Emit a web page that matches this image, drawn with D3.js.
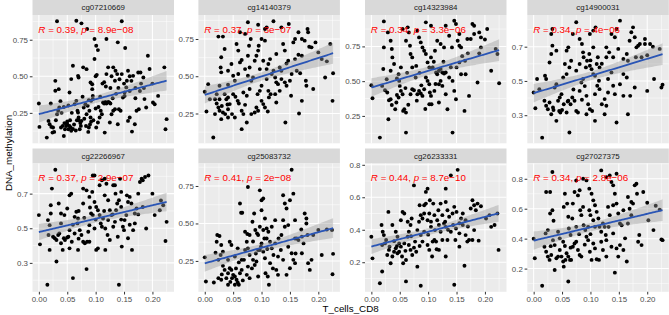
<!DOCTYPE html>
<html><head><meta charset="utf-8">
<script src="https://cdn.jsdelivr.net/npm/d3@7"></script>
<style>body{margin:0;background:#fff}svg{display:block}</style>
</head><body><svg id="c" width="669" height="315"></svg>
<script>
const probes = ["cg07210669","cg14140379","cg14323984","cg14900031","cg22266967","cg25083732","cg26233331","cg27027375"];
const rValues = ["0.39","0.37","0.34","0.34","0.37","0.41","0.44","0.34"];
const pValues = ["8.9e\u221208","3e\u221207","3.3e\u221206","4e\u221206","2.9e\u221207","2e\u221208","8.7e\u221210","2.8e\u221206"];
const xTicks = [0,0.05,0.1,0.15,0.2];
const xLimits = [-0.0112,0.238];
const yTicks = [[0.25,0.5,0.75],[0.25,0.5,0.75],[0.25,0.5,0.75],[0.3,0.5,0.7],[0.3,0.5,0.7],[0.25,0.5,0.75],[0.2,0.4,0.6,0.8],[0.2,0.4,0.6,0.8]];
const yTickLabels = [["0.25","0.50","0.75"],["0.25","0.50","0.75"],["0.25","0.50","0.75"],["0.3","0.5","0.7"],["0.3","0.5","0.7"],["0.25","0.50","0.75"],["0.2","0.4","0.6","0.8"],["0.2","0.4","0.6","0.8"]];
const yLimits = [[0.042,0.919],[0.050,0.911],[0.053,0.976],[0.136,0.885],[0.133,0.874],[0.044,0.900],[0.018,0.808],[0.045,0.902]];

const pts1 = [[0,.314],[.001,.154],[.014,.081],[.017,.195],[.019,.172],[.022,.154],[.025,.15],[.024,.115],[.021,.314],[.029,.401],[.035,.412],[.029,.469],[.034,.264],[.032,.241],[.036,.287],[.039,.15],[.042,.161],[.044,.092],[.046,.138],[.05,.172],[.052,.138],[.054,.161],[.056,.15],[.057,.127],[.05,.191],[.054,.389],[.057,.481],[.06,.572],[.063,.309],[.066,.332],[.068,.264],[.069,.252],[.07,.218],[.072,.138],[.074,.161],[.075,.195],[.069,.503],[.07,.492],[.078,.561],[.084,.549],[.079,.287],[.082,.309],[.084,.241],[.086,.298],[.088,.337],[.089,.264],[.091,.218],[.092,.332],[.095,.344],[.091,.458],[.094,.446],[.094,.412],[.095,.366],[.098,.618],[.101,.709],[.104,.679],[.098,.755],[.101,.15],[.104,.184],[.107,.218],[.109,.264],[.111,.241],[.113,.321],[.115,.314],[.117,.325],[.119,.314],[.122,.325],[.124,.321],[.126,.314],[.119,.515],[.122,.561],[.131,.561],[.135,.538],[.138,.515],[.116,.115],[.125,.184],[.128,.241],[.131,.264],[.134,.275],[.139,.172],[.141,.275],[.144,.264],[.148,.355],[.151,.389],[.154,.424],[.151,.366],[.146,.515],[.157,.538],[.163,.469],[.166,.503],[.157,.195],[.16,.218],[.164,.122],[.169,.172],[.172,.264],[.176,.275],[.175,.526],[.179,.526],[.184,.492],[.186,.344],[.189,.287],[.192,.64],[.201,.321],[.204,.309],[.21,.366],[.221,.561],[.225,.207],[.223,.138],[.032,.876],[.066,.88],[.075,.862],[.085,.823],[.146,.876],[.119,.755],[.139,.732],[.152,.693],[.045,.18],[.048,.16],[.055,.2],[.06,.14],[.062,.17],[.065,.13],[.067,.2],[.058,.25],[.08,.21],[.083,.16],[.087,.12],[.09,.17],[.096,.2],[.1,.28],[.105,.29],[.108,.36],[.112,.45],[.115,.46],[.118,.43],[.126,.42],[.16,.5],[.13,.35],[.136,.38],[.14,.42],[.2,.45],[.15,.45],[.155,.47],[.16,.4],[.17,.42],[.17,.35],[.178,.4],[.18,.45],[.185,.42],[.195,.55],[.038,.33],[.03,.2],[.027,.12],[.04,.25],[.044,.29],[.052,.3],[.07,.2],[.073,.18],[.077,.36],[.088,.15],[.092,.19],[.1,.5],[.102,.51],[.134,.47],[.142,.48],[.128,.5]];

const pts2 = [[0,.396],[.003,.263],[.015,.089],[.024,.766],[.032,.766],[.029,.627],[.035,.683],[.028,.559],[.029,.526],[.006,.447],[.009,.346],[.018,.346],[.021,.317],[.024,.29],[.026,.268],[.032,.257],[.036,.246],[.041,.279],[.044,.313],[.038,.346],[.035,.38],[.021,.38],[.026,.436],[.041,.443],[.041,.537],[.047,.582],[.05,.503],[.053,.47],[.056,.716],[.059,.672],[.062,.593],[.065,.609],[.062,.795],[.071,.784],[.076,.862],[.081,.75],[.078,.705],[.05,.38],[.054,.362],[.058,.335],[.06,.317],[.065,.268],[.068,.246],[.071,.308],[.074,.369],[.065,.145],[.076,.503],[.079,.559],[.082,.47],[.085,.492],[.088,.604],[.091,.638],[.094,.672],[.095,.705],[.097,.548],[.1,.436],[.097,.402],[.093,.38],[.094,.846],[.106,.817],[.109,.828],[.121,.869],[.1,.75],[.106,.739],[.1,.335],[.103,.313],[.106,.29],[.111,.263],[.113,.358],[.116,.38],[.094,.268],[.091,.29],[.112,.582],[.115,.615],[.118,.515],[.121,.537],[.124,.492],[.126,.459],[.129,.447],[.109,.481],[.126,.324],[.135,.537],[.138,.716],[.141,.672],[.144,.586],[.147,.604],[.141,.459],[.144,.436],[.15,.47],[.153,.515],[.152,.369],[.142,.19],[.135,.828],[.148,.851],[.156,.727],[.159,.75],[.165,.795],[.171,.75],[.176,.739],[.181,.817],[.182,.795],[.184,.698],[.188,.694],[.159,.615],[.165,.644],[.162,.537],[.168,.52],[.171,.335],[.166,.25],[.171,.638],[.178,.47],[.179,.436],[.191,.414],[.195,.727],[.206,.615],[.212,.492],[.221,.716],[.226,.52],[.225,.335],[.018,.246],[.041,.223],[.048,.246],[.074,.19],[.082,.246],[.088,.257],[.112,.402],[.124,.38],[.132,.402],[.2,.66],[.215,.6],[.04,.31],[.079,.414],[.068,.391],[.03,.3],[.053,.223],[.041,.358],[.029,.212],[.026,.346],[.109,.548],[.103,.604],[.132,.559],[.126,.649],[.076,.638],[.071,.548],[.059,.515],[.135,.481]];

const pts3 = [[0,.471],[.002,.377],[.015,.094],[.03,.226],[.021,.587],[.022,.743],[.019,.466],[.024,.435],[.027,.514],[.028,.418],[.031,.363],[.034,.37],[.036,.329],[.022,.93],[.029,.851],[.034,.791],[.036,.731],[.037,.671],[.04,.623],[.034,.575],[.042,.298],[.044,.346],[.048,.382],[.05,.466],[.052,.43],[.055,.406],[.056,.286],[.058,.298],[.061,.13],[.061,.274],[.048,.55],[.049,.502],[.052,.599],[.055,.875],[.061,.791],[.064,.887],[.066,.851],[.068,.755],[.069,.695],[.072,.599],[.072,.671],[.069,.406],[.072,.442],[.075,.435],[.078,.526],[.081,.406],[.084,.43],[.087,.411],[.09,.394],[.093,.442],[.079,.61],[.084,.815],[.087,.779],[.09,.743],[.093,.719],[.096,.695],[.099,.635],[.102,.599],[.105,.671],[.108,.599],[.081,.863],[.096,.923],[.105,.899],[.096,.526],[.099,.502],[.102,.478],[.103,.418],[.105,.394],[.111,.43],[.106,.334],[.102,.334],[.114,.562],[.116,.55],[.119,.575],[.122,.587],[.125,.562],[.128,.555],[.131,.562],[.112,.719],[.116,.791],[.122,.767],[.128,.743],[.119,.478],[.122,.502],[.125,.466],[.119,.346],[.131,.406],[.134,.298],[.131,.899],[.137,.827],[.142,.743],[.146,.935],[.149,.911],[.152,.791],[.155,.755],[.158,.743],[.155,.839],[.137,.526],[.143,.502],[.146,.43],[.149,.37],[.143,.13],[.15,.599],[.155,.635],[.158,.55],[.164,.286],[.165,.647],[.166,.55],[.169,.803],[.175,.803],[.178,.911],[.181,.899],[.172,.394],[.181,.839],[.187,.49],[.19,.851],[.193,.815],[.204,.875],[.211,.575],[.219,.731],[.222,.695],[.225,.485],[.193,.743],[.045,.52],[.063,.56],[.085,.56],[.11,.64],[.127,.64],[.14,.6],[.16,.68],[.17,.7],[.088,.47],[.113,.48],[.19,.7],[.065,.33],[.08,.36],[.095,.3],[.06,.45],[.045,.4],[.2,.8]];

const pts4 = [[0,.433],[.003,.341],[.015,.169],[.033,.803],[.031,.774],[.033,.706],[.04,.677],[.031,.657],[.028,.608],[.02,.53],[.022,.511],[.006,.511],[.01,.452],[.019,.384],[.022,.355],[.025,.335],[.028,.374],[.031,.306],[.034,.345],[.037,.462],[.04,.481],[.043,.384],[.045,.325],[.047,.316],[.049,.423],[.052,.52],[.055,.599],[.058,.677],[.061,.696],[.063,.579],[.066,.618],[.069,.774],[.075,.843],[.081,.745],[.085,.716],[.087,.667],[.053,.364],[.058,.316],[.061,.384],[.063,.199],[.065,.364],[.068,.403],[.072,.384],[.075,.325],[.078,.316],[.081,.442],[.084,.491],[.087,.511],[.088,.638],[.092,.579],[.094,.618],[.098,.657],[.099,.589],[.102,.569],[.105,.54],[.108,.53],[.111,.599],[.099,.774],[.105,.794],[.109,.813],[.113,.638],[.093,.413],[.096,.364],[.099,.335],[.103,.325],[.108,.423],[.112,.472],[.115,.501],[.116,.452],[.12,.364],[.125,.394],[.128,.355],[.131,.433],[.131,.511],[.128,.696],[.133,.667],[.137,.774],[.143,.755],[.146,.803],[.152,.852],[.149,.687],[.146,.257],[.14,.472],[.143,.423],[.152,.481],[.158,.413],[.158,.54],[.164,.657],[.166,.618],[.169,.735],[.172,.784],[.175,.813],[.178,.755],[.18,.638],[.181,.696],[.184,.706],[.166,.306],[.17,.413],[.178,.462],[.187,.716],[.19,.638],[.196,.716],[.2,.442],[.205,.716],[.212,.511],[.222,.687],[.225,.462],[.227,.478],[.196,.745],[.105,.696],[.081,.599],[.075,.56],[.058,.54],[.046,.403],[.04,.267],[.093,.306],[.116,.579],[.137,.55],[.14,.638],[.128,.638],[.158,.628],[.164,.52],[.108,.267],[.125,.306],[.05,.33],[.035,.33],[.07,.45],[.09,.47],[.1,.62],[.12,.6],[.21,.7],[.2,.65],[.06,.38],[.085,.39]];

const pts5 = [[0,.576],[.002,.407],[.015,.174],[.019,.375],[.017,.461],[.019,.518],[.021,.585],[.021,.633],[.023,.729],[.029,.838],[.031,.308],[.035,.643],[.025,.451],[.028,.442],[.031,.432],[.034,.461],[.036,.47],[.039,.528],[.042,.375],[.044,.442],[.046,.432],[.05,.447],[.052,.451],[.054,.384],[.058,.422],[.039,.585],[.045,.576],[.05,.614],[.054,.69],[.057,.7],[.06,.212],[.063,.566],[.066,.595],[.069,.556],[.068,.528],[.072,.489],[.069,.375],[.075,.461],[.078,.422],[.081,.413],[.084,.264],[.085,.422],[.089,.518],[.092,.585],[.095,.576],[.095,.805],[.098,.805],[.101,.375],[.104,.384],[.078,.729],[.084,.719],[.089,.681],[.094,.71],[.098,.652],[.101,.623],[.104,.604],[.107,.576],[.109,.528],[.111,.509],[.113,.556],[.107,.748],[.111,.777],[.116,.786],[.119,.757],[.122,.662],[.125,.604],[.128,.576],[.117,.499],[.121,.461],[.125,.432],[.117,.375],[.131,.748],[.134,.748],[.135,.7],[.138,.643],[.141,.662],[.143,.786],[.145,.71],[.148,.509],[.15,.489],[.141,.174],[.139,.451],[.157,.442],[.157,.652],[.16,.681],[.163,.643],[.166,.489],[.169,.528],[.172,.614],[.175,.7],[.178,.767],[.181,.786],[.183,.777],[.187,.796],[.193,.805],[.189,.499],[.145,.623],[.154,.576],[.164,.375],[.151,.547],[.204,.576],[.213,.604],[.219,.633],[.225,.537],[.223,.426],[.183,.623],[.134,.537],[.131,.509],[.054,.489],[.063,.47],[.087,.48],[.098,.499],[.089,.422],[.136,.604],[.169,.585],[.122,.547],[.078,.643],[.116,.69],[.146,.394],[.039,.413],[.016,.547],[.06,.52],[.07,.6],[.08,.56],[.1,.55],[.115,.6],[.13,.58],[.145,.55],[.16,.52],[.2,.7],[.215,.66],[.07,.44],[.09,.62],[.155,.69],[.175,.58]];

const pts6 = [[0,.274],[.002,.113],[.016,.106],[.022,.423],[.026,.416],[.021,.378],[.029,.356],[.019,.305],[.024,.257],[.028,.29],[.032,.217],[.035,.19],[.024,.135],[.029,.124],[.038,.135],[.041,.168],[.044,.201],[.047,.19],[.048,.135],[.05,.157],[.053,.146],[.056,.124],[.058,.106],[.06,.091],[.062,.168],[.041,.091],[.053,.091],[.044,.378],[.047,.356],[.053,.279],[.058,.334],[.062,.633],[.064,.571],[.066,.571],[.071,.445],[.074,.378],[.076,.334],[.079,.29],[.069,.257],[.074,.157],[.079,.135],[.076,.743],[.084,.511],[.087,.566],[.089,.456],[.092,.434],[.094,.423],[.097,.721],[.1,.655],[.103,.666],[.1,.588],[.106,.533],[.109,.467],[.085,.257],[.088,.223],[.091,.246],[.094,.323],[.097,.323],[.099,.345],[.1,.367],[.103,.312],[.106,.268],[.107,.168],[.111,.146],[.113,.091],[.094,.146],[.109,.4],[.112,.445],[.115,.378],[.118,.334],[.121,.29],[.124,.367],[.126,.19],[.129,.157],[.135,.423],[.138,.522],[.141,.478],[.138,.688],[.141,.633],[.144,.6],[.147,.489],[.15,.655],[.153,.858],[.156,.699],[.147,.345],[.153,.301],[.156,.257],[.159,.235],[.15,.201],[.144,.157],[.162,.4],[.159,.522],[.165,.389],[.171,.412],[.174,.367],[.176,.566],[.179,.533],[.179,.5],[.181,.423],[.182,.235],[.185,.19],[.188,.257],[.191,.423],[.2,.456],[.206,.29],[.215,.46],[.224,.456],[.226,.297],[.225,.161],[.159,.4],[.124,.522],[.118,.478],[.129,.279],[.103,.456],[.097,.478],[.079,.423],[.071,.323],[.065,.257],[.076,.212],[.065,.19],[.041,.257],[.032,.312],[.134,.323],[.171,.301],[.138,.257],[.115,.235],[.03,.16],[.045,.11],[.055,.2],[.067,.12],[.083,.2],[.09,.3],[.12,.2],[.13,.4],[.105,.4],[.085,.38],[.075,.43],[.06,.24],[.16,.3],[.17,.46],[.11,.33]];

const pts7 = [[0,.357],[.002,.224],[.015,.071],[.019,.143],[.018,.429],[.02,.388],[.022,.367],[.019,.306],[.024,.316],[.026,.337],[.03,.51],[.032,.296],[.028,.245],[.031,.276],[.034,.194],[.037,.235],[.04,.265],[.043,.286],[.046,.255],[.049,.265],[.052,.296],[.054,.235],[.056,.194],[.061,.082],[.061,.214],[.037,.429],[.043,.388],[.046,.357],[.052,.459],[.055,.51],[.058,.5],[.064,.449],[.064,.357],[.066,.388],[.069,.429],[.071,.469],[.066,.306],[.069,.276],[.072,.245],[.075,.673],[.077,.327],[.079,.265],[.081,.173],[.084,.449],[.085,.551],[.087,.055],[.09,.327],[.093,.551],[.087,.49],[.09,.469],[.093,.5],[.096,.561],[.096,.633],[.099,.653],[.099,.459],[.102,.5],[.103,.582],[.105,.418],[.108,.327],[.109,.561],[.111,.49],[.099,.306],[.102,.276],[.107,.235],[.111,.337],[.114,.327],[.116,.459],[.118,.52],[.119,.429],[.122,.388],[.125,.49],[.128,.439],[.131,.653],[.134,.52],[.131,.418],[.134,.337],[.137,.48],[.14,.735],[.143,.5],[.144,.429],[.146,.061],[.148,.337],[.149,.408],[.15,.51],[.152,.769],[.146,.541],[.155,.378],[.158,.469],[.161,.429],[.164,.178],[.166,.459],[.169,.327],[.172,.337],[.175,.531],[.178,.582],[.181,.551],[.184,.52],[.187,.561],[.178,.337],[.181,.398],[.189,.333],[.193,.545],[.202,.469],[.211,.418],[.217,.429],[.222,.5],[.224,.276],[.208,.49],[.125,.337],[.119,.276],[.131,.235],[.093,.388],[.081,.398],[.058,.316],[.049,.316],[.155,.296],[.166,.367],[.14,.388],[.112,.398],[.131,.571],[.122,.561],[.161,.5],[.087,.367],[.045,.3],[.06,.27],[.075,.29],[.085,.3],[.1,.37],[.115,.28],[.13,.45],[.155,.44],[.17,.42],[.04,.33],[.07,.36],[.105,.45],[.135,.4]];

const pts8 = [[0,.4],[.002,.269],[.015,.085],[.022,.712],[.029,.712],[.033,.845],[.029,.568],[.033,.59],[.025,.457],[.021,.435],[.034,.39],[.037,.357],[.019,.346],[.022,.313],[.025,.28],[.028,.258],[.031,.291],[.037,.191],[.04,.269],[.043,.28],[.046,.324],[.049,.28],[.052,.247],[.053,.213],[.056,.258],[.043,.446],[.046,.402],[.052,.379],[.055,.7],[.053,.612],[.059,.634],[.061,.546],[.062,.468],[.065,.424],[.068,.535],[.069,.634],[.072,.712],[.061,.114],[.055,.351],[.058,.302],[.061,.28],[.064,.258],[.066,.258],[.069,.346],[.072,.368],[.075,.379],[.078,.324],[.081,.291],[.084,.28],[.075,.789],[.078,.689],[.081,.723],[.082,.59],[.084,.557],[.087,.612],[.088,.49],[.091,.457],[.093,.413],[.096,.39],[.098,.59],[.1,.557],[.087,.8],[.093,.789],[.098,.734],[.102,.7],[.105,.656],[.108,.623],[.111,.579],[.114,.535],[.116,.479],[.119,.446],[.122,.501],[.099,.313],[.102,.258],[.105,.368],[.108,.335],[.111,.262],[.115,.258],[.119,.379],[.122,.324],[.125,.479],[.127,.424],[.128,.39],[.119,.856],[.128,.811],[.134,.822],[.137,.778],[.14,.756],[.143,.7],[.146,.834],[.14,.623],[.146,.634],[.149,.568],[.152,.501],[.155,.49],[.134,.557],[.132,.479],[.137,.346],[.143,.173],[.146,.335],[.152,.357],[.158,.324],[.161,.402],[.164,.247],[.166,.678],[.169,.6],[.172,.645],[.175,.634],[.178,.756],[.181,.767],[.182,.7],[.184,.379],[.186,.424],[.19,.357],[.193,.712],[.202,.523],[.211,.457],[.222,.594],[.225,.395],[.227,.39],[.108,.479],[.105,.523],[.131,.612],[.158,.59],[.14,.435],[.166,.501],[.172,.557],[.128,.28],[.149,.28],[.096,.479],[.075,.479],[.035,.52],[.065,.34],[.09,.36],[.03,.35],[.2,.64],[.1,.43],[.08,.43],[.215,.62]];

const series = [pts1,pts2,pts3,pts4,pts5,pts6,pts7,pts8];
const xTitle = "T_cells_CD8";
const yTitle = "DNA_methylation";

// ---------- layout ----------
const FONT = "'Liberation Sans', Arial, Helvetica, sans-serif";
const colLeft = [32.5, 198.4, 365, 527.3];
const panelW = 141.5;
const rowTop = [0, 148.5];
const stripH = 15;
const panelH = 128.3;

const svg = d3.select("#c");
svg.append("rect").attr("width",669).attr("height",315).attr("fill","#fff");

function minorOf(ticks, dom){
  const step = ticks[1]-ticks[0];
  const out = [];
  for (let i=-1;i<ticks.length;i++){
    const v = ticks[0] + step*(i+0.5);
    if (v>dom[0] && v<dom[1]) out.push(v);
  }
  return out;
}
const xMinor = minorOf(xTicks, xLimits);

series.forEach((pts, i) => {
  const row = Math.floor(i/4), col = i%4;
  const left = colLeft[col];
  const top = rowTop[row] + stripH;
  const g = svg.append("g");
  const x = d3.scaleLinear().domain(xLimits).range([left, left+panelW]);
  const y = d3.scaleLinear().domain(yLimits[i]).range([top+panelH, top]);

  // strip
  g.append("rect").attr("x",left).attr("y",rowTop[row]).attr("width",panelW).attr("height",stripH).attr("fill","#D9D9D9");
  g.append("text").attr("x",left+panelW/2).attr("y",rowTop[row]+stripH/2+2.8)
    .attr("text-anchor","middle").attr("font-family",FONT).attr("font-size",7.9).attr("fill","#1A1A1A").text(probes[i]);

  // panel
  g.append("rect").attr("x",left).attr("y",top).attr("width",panelW).attr("height",panelH).attr("fill","#EBEBEB");
  const yMinor = minorOf(yTicks[i], yLimits[i]);
  g.selectAll(".ymn").data(yMinor).join("line").attr("x1",left).attr("x2",left+panelW)
    .attr("y1",d=>y(d)).attr("y2",d=>y(d)).attr("stroke","#fff").attr("stroke-width",0.5);
  g.selectAll(".xmn").data(xMinor).join("line").attr("y1",top).attr("y2",top+panelH)
    .attr("x1",d=>x(d)).attr("x2",d=>x(d)).attr("stroke","#fff").attr("stroke-width",0.5);
  g.selectAll(".ymj").data(yTicks[i]).join("line").attr("x1",left).attr("x2",left+panelW)
    .attr("y1",d=>y(d)).attr("y2",d=>y(d)).attr("stroke","#fff").attr("stroke-width",1.05);
  g.selectAll(".xmj").data(xTicks).join("line").attr("y1",top).attr("y2",top+panelH)
    .attr("x1",d=>x(d)).attr("x2",d=>x(d)).attr("stroke","#fff").attr("stroke-width",1.05);

  // y axis
  const yAxis = d3.axisLeft(y).tickValues(yTicks[i]).tickSize(2.7).tickPadding(1.8)
    .tickFormat((d,k)=>yTickLabels[i][k]);
  const ya = svg.append("g").attr("transform",`translate(${left},0)`).call(yAxis);
  ya.select(".domain").remove();
  ya.selectAll("line").attr("stroke","#333333").attr("stroke-width",1);
  ya.selectAll("text").attr("font-family",FONT).attr("font-size",7.9).attr("fill","#4D4D4D");

  if (row===1){
    const xAxis = d3.axisBottom(x).tickValues(xTicks).tickSize(2.7).tickPadding(1.6)
      .tickFormat(d3.format(".2f"));
    const xa = svg.append("g").attr("transform",`translate(0,${top+panelH})`).call(xAxis);
    xa.select(".domain").remove();
    xa.selectAll("line").attr("stroke","#333333").attr("stroke-width",1);
    xa.selectAll("text").attr("font-family",FONT).attr("font-size",7.9).attr("fill","#4D4D4D");
  }

  // points
  g.selectAll("circle").data(pts).join("circle")
    .attr("cx",d=>x(d[0])).attr("cy",d=>y(d[1])).attr("r",1.95).attr("fill","#000");

  // linear fit + 95% CI
  const n = pts.length;
  const mx = d3.mean(pts,d=>d[0]), my = d3.mean(pts,d=>d[1]);
  const sxx = d3.sum(pts,d=>(d[0]-mx)**2);
  const sxy = d3.sum(pts,d=>(d[0]-mx)*(d[1]-my));
  const b = sxy/sxx, a = my - b*mx;
  const s = Math.sqrt(d3.sum(pts,d=>(d[1]-a-b*d[0])**2)/(n-2));
  const tq = 1.976;
  const xe = d3.extent(pts,d=>d[0]);
  const grid = d3.range(0,81).map(k=>xe[0]+(xe[1]-xe[0])*k/80);
  const band = grid.map(xv=>{
    const f = a+b*xv;
    const se = s*Math.sqrt(1/n + (xv-mx)**2/sxx);
    return {x:xv, lo:f-tq*se, hi:f+tq*se, f};
  });
  g.append("path").datum(band)
    .attr("d", d3.area().x(d=>x(d.x)).y0(d=>y(d.lo)).y1(d=>y(d.hi)))
    .attr("fill","#999999").attr("fill-opacity",0.4);
  g.append("path").datum(band)
    .attr("d", d3.line().x(d=>x(d.x)).y(d=>y(d.f)))
    .attr("fill","none").attr("stroke","#2A55B5").attr("stroke-width",1.8);

  // correlation label
  const t = g.append("text").attr("x",x(0)-0.5).attr("y",top+17.5)
    .attr("font-family",FONT).attr("font-size",9.8).attr("fill","#FF0000");
  t.append("tspan").attr("font-style","italic").text("R");
  t.append("tspan").text(" = " + rValues[i] + ", ");
  t.append("tspan").attr("font-style","italic").text("p");
  t.append("tspan").text(" = " + pValues[i]);
});

// axis titles
svg.append("text").attr("x",(colLeft[0]+colLeft[3]+panelW)/2).attr("y",312)
  .attr("text-anchor","middle").attr("font-family",FONT).attr("font-size",9.8).attr("fill","#000").text(xTitle);
svg.append("text").attr("transform","translate(9,153) rotate(-90)").attr("dy","0.35em")
  .attr("text-anchor","middle").attr("font-family",FONT).attr("font-size",9.8).attr("fill","#000").text(yTitle);
</script>
</body></html>
